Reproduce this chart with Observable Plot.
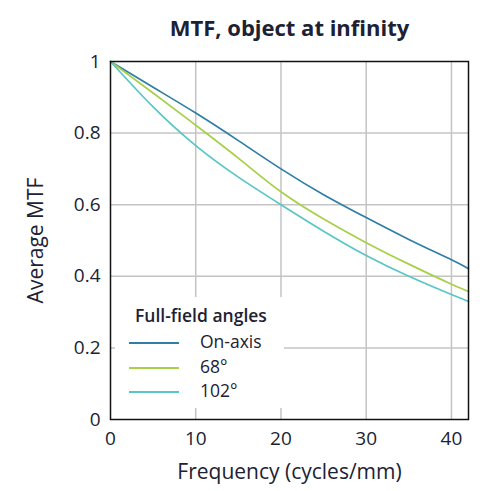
<!DOCTYPE html>
<html>
<head>
<meta charset="utf-8">
<script src="https://cdn.jsdelivr.net/npm/d3@7"></script>
<script src="https://cdn.jsdelivr.net/npm/@observablehq/plot@0.6"></script>
<style>
  html, body { margin: 0; padding: 0; background: #fff; }
  #wrap { position: relative; width: 482px; height: 491px; font-family: "Open Sans", sans-serif; color: #1c2233; }
  #legend { position: absolute; left: 115px; top: 297px; width: 169px; height: 111px; background: #fff; }
  #legend .ttl { position: absolute; left: 20px; top: 6px; font-weight: 600; font-size: 17.5px; line-height: 24px; white-space: nowrap; }
  #legend .row { position: absolute; left: 14px; white-space: nowrap; font-size: 17.5px; height: 20px; line-height: 20px; }
  #legend .sw { display: inline-block; width: 50px; height: 2px; vertical-align: middle; margin-right: 21px; }
</style>
</head>
<body>
<div id="wrap"></div>
<script>
const freq = [0, 5, 10, 15, 20, 25, 30, 35, 40, 42];
const onAxis = [1, 0.928, 0.856, 0.779, 0.700, 0.628, 0.564, 0.503, 0.446, 0.421];
const deg68 = [1, 0.912, 0.822, 0.730, 0.636, 0.560, 0.494, 0.434, 0.378, 0.358];
const deg102 = [1, 0.873, 0.765, 0.677, 0.600, 0.526, 0.458, 0.400, 0.349, 0.330];
const seriesNames = ["On-axis", "68°", "102°"];
const seriesColors = ["#2e7ea6", "#a8cf48", "#58c6c6"];
const xTicks = [0, 10, 20, 30, 40];
const yTicks = [0, 0.2, 0.4, 0.6, 0.8, 1];
const yTickLabels = ["0", "0.2", "0.4", "0.6", "0.8", "1"];

const seriesValues = [onAxis, deg68, deg102];
const rows = seriesNames.flatMap((name, si) =>
  freq.map((f, i) => ({ f, v: seriesValues[si][i], name })));

const ink = "#1c2233";
const plot = Plot.plot({
  width: 482,
  height: 491,
  marginLeft: 110,
  marginRight: 14,
  marginTop: 61,
  marginBottom: 72,
  style: { fontFamily: "Open Sans, sans-serif", color: ink, background: "#fff" },
  x: { domain: [0, 42], ticks: xTicks, tickSize: 0, tickPadding: 12, label: null },
  y: { domain: [0, 1], ticks: yTicks, tickSize: 0, tickPadding: 10, label: null,
       tickFormat: (d) => yTickLabels[yTicks.indexOf(d)] },
  color: { domain: seriesNames, range: seriesColors },
  marks: [
    Plot.gridX(xTicks.filter(d => d > 0), { stroke: "#c4c4c4", strokeOpacity: 1, strokeWidth: 1.5 }),
    Plot.gridY(yTicks.filter(d => d > 0 && d < 1), { stroke: "#c4c4c4", strokeOpacity: 1, strokeWidth: 1.5 }),
    Plot.line(rows, { x: "f", y: "v", z: "name", stroke: "name", strokeWidth: 1.7, curve: "natural" }),
    Plot.frame({ stroke: "#111", strokeWidth: 1.5 }),
    Plot.axisX({ ticks: xTicks, tickSize: 0, tickPadding: 12, fontSize: 19, label: null }),
    Plot.axisY({ ticks: yTicks, tickSize: 0, tickPadding: 10, fontSize: 19, label: null,
                 tickFormat: (d) => yTickLabels[yTicks.indexOf(d)] }),
    Plot.text(["MTF, object at infinity"], { frameAnchor: "top", dy: -41, fontSize: 22, fontWeight: "bold", fill: ink }),
    Plot.text(["Frequency (cycles/mm)"], { frameAnchor: "bottom", dy: 59, fontSize: 21, fill: ink }),
    Plot.text(["Average MTF"], { frameAnchor: "left", textAnchor: "middle", dx: -74, rotate: -90, fontSize: 21, fill: ink })
  ]
});

const wrap = document.getElementById("wrap");
wrap.appendChild(plot);

// Legend overlay (white box covering gridlines)
const leg = document.createElement("div");
leg.id = "legend";
const ttl = document.createElement("div");
ttl.className = "ttl";
ttl.textContent = "Full-field angles";
leg.appendChild(ttl);
seriesNames.forEach((name, i) => {
  const r = document.createElement("div");
  r.className = "row";
  r.style.top = (34 + i * 24.5) + "px";
  const sw = document.createElement("span");
  sw.className = "sw";
  sw.style.background = seriesColors[i];
  r.appendChild(sw);
  r.appendChild(document.createTextNode(name));
  leg.appendChild(r);
});
wrap.appendChild(leg);
</script>
</body>
</html>
